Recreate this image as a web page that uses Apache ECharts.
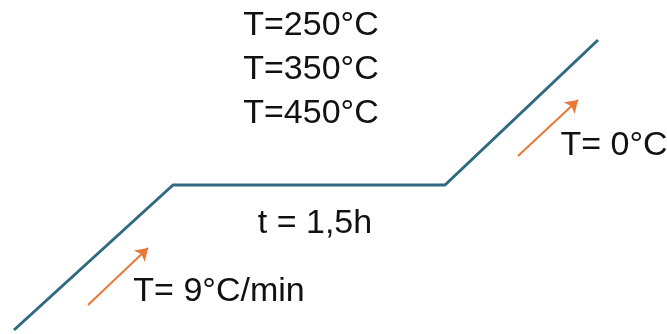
<!DOCTYPE html>
<html>
<head>
<meta charset="utf-8">
<script src="https://cdn.jsdelivr.net/npm/echarts@6/dist/echarts.min.js"></script>
<style>
html,body{margin:0;padding:0;background:#fff;}
#c{width:667px;height:334px;}
</style>
</head>
<body>
<div id="c"></div>
<script>
// Heat-treatment profile (schematic units)
var profileX = [14, 173, 445, 598];
var profileY = [4, 149, 149, 294];

// Arrows: [x0, y0, x1, y1]
var arrow1 = [88, 29, 148, 86];
var arrow2 = [518, 178, 578, 234];

// Text annotations
var labelTexts = ['T=250°C', 'T=350°C', 'T=450°C', 't = 1,5h', 'T= 9°C/min', 'T= 0°C'];
var labelX = [311, 311, 311, 315, 219, 614];
var labelY = [308, 264, 220, 110, 42, 188];

var chart = echarts.init(document.getElementById('c'));
var FONT = 'Liberation Sans, Arial, sans-serif';

var option = {
  animation: false,
  backgroundColor: '#ffffff',
  grid: {left: 0, right: 0, top: 0, bottom: 0},
  xAxis: {type: 'value', min: 0, max: 667, show: false},
  yAxis: {type: 'value', min: 0, max: 334, show: false},
  series: [
    {
      type: 'line',
      data: profileX.map(function (x, i) { return [x, profileY[i]]; }),
      symbol: 'none',
      lineStyle: {color: '#2f6a80', width: 3},
      z: 2
    },
    {
      type: 'lines',
      coordinateSystem: 'cartesian2d',
      symbol: ['none', 'arrow'],
      symbolSize: [0, 12],
      lineStyle: {color: '#e8783a', width: 2, opacity: 1},
      data: [
        {coords: [[arrow1[0], arrow1[1]], [arrow1[2], arrow1[3]]]},
        {coords: [[arrow2[0], arrow2[1]], [arrow2[2], arrow2[3]]]}
      ],
      z: 3
    },
    {
      type: 'scatter',
      symbolSize: 1,
      itemStyle: {color: 'rgba(0,0,0,0)', opacity: 1},
      data: labelTexts.map(function (t, i) { return {value: [labelX[i], labelY[i]], name: t}; }),
      label: {
        show: true,
        position: 'inside',
        formatter: function (p) { return p.name; },
        color: '#111111',
        textBorderWidth: 0,
        fontFamily: FONT,
        fontSize: 34
      },
      z: 4
    }
  ]
};
chart.setOption(option);
</script>
</body>
</html>
